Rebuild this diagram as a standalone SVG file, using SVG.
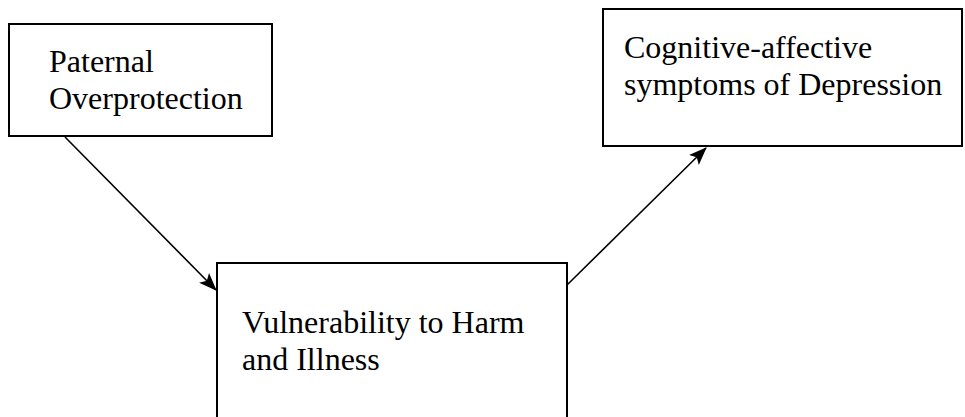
<svg xmlns="http://www.w3.org/2000/svg" width="965" height="417" viewBox="0 0 965 417">
<defs>
<style>
.box{fill:#fff;stroke:#000;stroke-width:2}
.t{font-family:"Liberation Serif","Times New Roman",serif;font-size:32px;fill:#000}
.c{stroke:#000;stroke-width:1.6;fill:none}
</style>
<marker id="ah" markerWidth="18" markerHeight="14" refX="17" refY="7" orient="auto" markerUnits="userSpaceOnUse">
<path d="M0,0 L18,7 L0,14 L4,7 Z" fill="#000"/>
</marker>
</defs>
<g id="n1">
<rect class="box" x="9" y="24" width="263" height="112"/>
<text class="t" x="49" y="72">Paternal</text>
<text class="t" x="49" y="109">Overprotection</text>
</g>
<g id="n2">
<rect class="box" x="603" y="9" width="359" height="137"/>
<text class="t" x="624" y="58">Cognitive-affective</text>
<text class="t" x="624" y="95">symptoms of Depression</text>
</g>
<g id="n3">
<rect class="box" x="217" y="263" width="350" height="160"/>
<text class="t" x="242" y="333">Vulnerability to Harm</text>
<text class="t" x="242" y="370">and Illness</text>
</g>
<g id="connectors">
<line class="c" x1="65" y1="137" x2="216" y2="290" marker-end="url(#ah)"/>
<line class="c" x1="567" y1="285" x2="706" y2="148" marker-end="url(#ah)"/>
</g>
</svg>
